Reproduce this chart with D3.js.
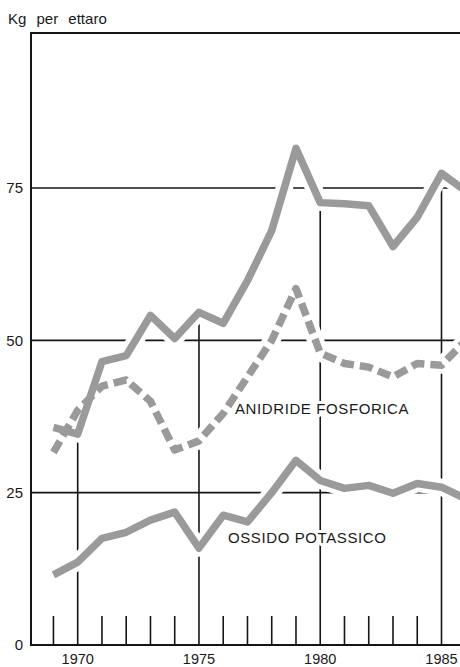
<!DOCTYPE html>
<html><head><meta charset="utf-8">
<script src="https://cdn.jsdelivr.net/npm/d3@7/dist/d3.min.js"></script>
<style>
html,body{margin:0;padding:0;background:#fff;}
svg{display:block;}
text{font-family:"Liberation Sans",Arial,Helvetica,sans-serif;fill:#1a1a1a;}
</style></head>
<body>
<script>
// ---- data ----
const years = [1969,1970,1971,1972,1973,1974,1975,1976,1977,1978,1979,1980,1981,1982,1983,1984,1985,1986];
const azoto      = [35.7,34.6,46.5,47.5,54.1,50.3,54.6,52.8,59.8,68.0,81.5,72.6,72.4,72.1,65.4,70.2,77.4,74.5];
const fosforica  = [31.6,38.5,42.5,43.5,40.0,32.0,33.5,38.0,44.0,50.0,58.5,47.9,46.2,45.6,44.0,46.2,45.9,50.0];
const potassico  = [11.5,13.6,17.5,18.5,20.5,21.8,15.9,21.3,20.2,25.0,30.3,27.0,25.7,26.2,24.9,26.5,25.9,24.0];
const yTicks = [0,25,50,75];
const xMajor = [1970,1975,1980,1985];
const unitLabel = "Kg per ettaro";
const labelFosforica = "ANIDRIDE FOSFORICA";
const labelPotassico = "OSSIDO POTASSICO";

// ---- layout ----
const W = 460, H = 667;
const mLeft = 31, mTop = 33, mBottom = 645;
const svg = d3.select("body").append("svg").attr("width", W).attr("height", H);

const x = d3.scaleLinear().domain([1970, 1985]).range([77.7, 441.5]);
const y = d3.scaleLinear().domain([0, 75]).range([mBottom, 188]);

const ink = "#151515";
const lineGray = "#9a9a9a";

// horizontal gridlines
svg.append("g").selectAll("line").data(yTicks.filter(d => d > 0)).join("line")
  .attr("x1", mLeft).attr("x2", W).attr("y1", d => y(d)).attr("y2", d => y(d))
  .attr("stroke", ink).attr("stroke-width", 1.6);

// major vertical drop lines up to the upper series
svg.append("g").selectAll("line").data(xMajor).join("line")
  .attr("x1", d => x(d)).attr("x2", d => x(d))
  .attr("y1", mBottom)
  .attr("y2", d => y(azoto[years.indexOf(d)]))
  .attr("stroke", ink).attr("stroke-width", 1.6);

// minor ticks
svg.append("g").selectAll("line").data(years.filter(d => !xMajor.includes(d))).join("line")
  .attr("x1", d => x(d)).attr("x2", d => x(d))
  .attr("y1", mBottom).attr("y2", mBottom - 29)
  .attr("stroke", ink).attr("stroke-width", 1.6);

// frame: top, left, bottom
svg.append("path")
  .attr("d", `M${W},${mTop}H${mLeft}V${mBottom}H${W}`)
  .attr("fill", "none").attr("stroke", ink).attr("stroke-width", 2);

// series
const series = [
  {v: azoto, dash: null},
  {v: fosforica, dash: "13,6"},
  {v: potassico, dash: null}
];
const gen = d3.line().x((d, i) => x(years[i])).y(d => y(d));

const gHalo = svg.append("g");
const gLine = svg.append("g");
series.forEach(s => {
  gHalo.append("path").attr("d", gen(s.v))
    .attr("fill", "none").attr("stroke", "#fff").attr("stroke-width", 17)
    .attr("stroke-linejoin", "round");
});
series.forEach(s => {
  gLine.append("path").attr("d", gen(s.v))
    .attr("fill", "none").attr("stroke", lineGray).attr("stroke-width", 7.5)
    .attr("stroke-linejoin", "round")
    .attr("stroke-dasharray", s.dash);
});

// y tick labels
svg.append("g").selectAll("text").data(yTicks).join("text")
  .attr("x", 23).attr("y", d => y(d)).attr("dy", "0.36em")
  .attr("text-anchor", "end").attr("font-size", 15).text(d => d);

// x tick labels
svg.append("g").selectAll("text").data(xMajor).join("text")
  .attr("x", d => x(d)).attr("y", 663.5)
  .attr("text-anchor", "middle").attr("font-size", 14.5).text(d => d);

// unit label
svg.append("text").attr("x", 8).attr("y", 24).attr("font-size", 15)
  .attr("word-spacing", 6).text(unitLabel);

// series labels
const lab = (t, xx, yy) => svg.append("text").attr("x", xx).attr("y", yy)
  .attr("font-size", 15).attr("letter-spacing", 0.6)
  .attr("stroke", "#fff").attr("stroke-width", 6)
  .attr("paint-order", "stroke").attr("stroke-linejoin", "round").text(t);
lab(labelFosforica, 235, 414);
lab(labelPotassico, 228, 543);
</script>
</body></html>
